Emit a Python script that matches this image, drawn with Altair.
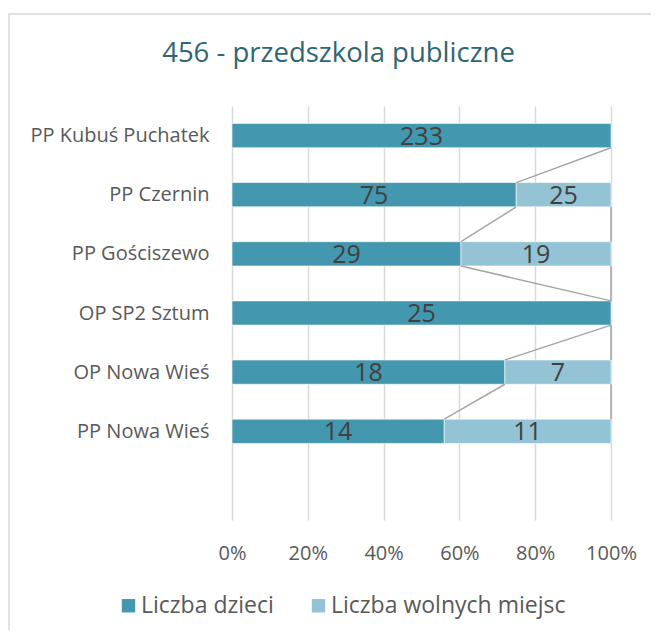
import json
import altair as alt
import pandas as pd

# ---- data ----
categories = ["PP Kubuś Puchatek", "PP Czernin", "PP Gościszewo",
              "OP SP2 Sztum", "OP Nowa Wieś", "PP Nowa Wieś"]
liczba_dzieci = [233, 75, 29, 25, 18, 14]
liczba_wolnych = [None, 25, 19, 0, 7, 11]
series_names = ["Liczba dzieci", "Liczba wolnych miejsc"]
x_ticks = [0, 0.2, 0.4, 0.6, 0.8, 1.0]
n_rows = 7  # Excel keeps one empty category slot below the last bar

# ---- style ----
DARK = "#4397AE"
LIGHT = "#93C3D4"
FONT = "Open Sans"
HH = 0.205  # half bar thickness in category units

bars, lines = [], []
ends = []
for i, (name, d, w) in enumerate(zip(categories, liczba_dzieci, liczba_wolnych)):
    tot = d + (w or 0)
    pd_end = d / tot
    c = i + 0.5
    bars.append(dict(cat=name, series=series_names[0], start=0.0, end=pd_end,
                     value=d, yc=c, y0=c - HH, y1=c + HH))
    if w:
        bars.append(dict(cat=name, series=series_names[1], start=pd_end, end=1.0,
                         value=w, yc=c, y0=c - HH, y1=c + HH))
    ends.append((pd_end, w is not None))

for i in range(len(categories) - 1):
    a, b = ends[i], ends[i + 1]
    yb = i + 0.5 + HH
    yt = i + 1.5 - HH
    lines.append(dict(x=a[0], x2=b[0], y=yb, y2=yt))
    if a[1] and b[1]:
        lines.append(dict(x=1.0, x2=1.0, y=yb, y2=yt))

bar_df = pd.DataFrame(bars)
bar_df["mid"] = (bar_df["start"] + bar_df["end"]) / 2
line_df = pd.DataFrame(lines)

label_expr = json.dumps(categories + [""], ensure_ascii=False) + "[floor(datum.value)]"

x_scale = alt.Scale(domain=[0, 1], nice=False, zero=False)
y_scale = alt.Scale(domain=[0, n_rows], reverse=True, nice=False, zero=False)

x_axis = alt.Axis(values=x_ticks, format=".0%", grid=True, gridColor="#D9D9D9",
                  gridWidth=1.5, domain=False, ticks=False, labelPadding=23,
                  labelFont=FONT, labelFontSize=20, labelColor="#595959",
                  labelOverlap=False, labelFlush=False, title=None)
y_axis = alt.Axis(values=[i + 0.5 for i in range(len(categories))], labelExpr=label_expr,
                  grid=False, domain=False, ticks=False, labelPadding=23,
                  labelFont=FONT, labelFontSize=20, labelColor="#595959",
                  labelLimit=300, title=None)

frame = alt.Chart(pd.DataFrame({"a": [0]})).mark_rect(
    fill=None, stroke="#D9D9D9", strokeWidth=1.5
).encode(x=alt.value(-223), x2=alt.value(600), y=alt.value(-92), y2=alt.value(620))

bar_layer = alt.Chart(bar_df).mark_bar(stroke="white", strokeWidth=0.6).encode(
    x=alt.X("start:Q", scale=x_scale, axis=x_axis),
    x2="end:Q",
    y=alt.Y("y0:Q", scale=y_scale, axis=y_axis),
    y2="y1:Q",
    color=alt.Color("series:N",
                    scale=alt.Scale(domain=series_names, range=[DARK, LIGHT]),
                    legend=alt.Legend(orient="none", direction="horizontal",
                                      legendX=-115, legendY=488, title=None,
                                      symbolType="square", symbolSize=180,
                                      symbolStrokeWidth=0, labelOffset=1,
                                      columnPadding=33, labelLimit=400,
                                      labelFont=FONT, labelFontSize=23,
                                      labelColor="#595959")),
)

text_layer = alt.Chart(bar_df).mark_text(
    font=FONT, fontSize=25, color="#404040", baseline="middle", dy=1
).encode(
    x=alt.X("mid:Q", scale=x_scale),
    y=alt.Y("yc:Q", scale=y_scale),
    text="value:Q",
)

line_layer = alt.Chart(line_df).mark_rule(color="#A6A6A6", strokeWidth=1.5).encode(
    x=alt.X("x:Q", scale=x_scale), x2="x2:Q",
    y=alt.Y("y:Q", scale=y_scale), y2="y2:Q",
)

chart = alt.layer(frame, bar_layer, line_layer, text_layer).properties(
    width=379, height=414,
    autosize=alt.AutoSizeParams(type="none"),
    padding={"left": 224, "top": 98, "right": 40, "bottom": 110},
    title=alt.Title("456 - przedszkola publiczne", font=FONT, fontSize=27.5,
                    fontWeight="normal", color="#2F6673", anchor="middle",
                    baseline="middle", frame="group", dx=-83, offset=-68),
).configure_view(stroke=None)

chart.save("out.html", embed_options={"renderer": "svg", "actions": False})
